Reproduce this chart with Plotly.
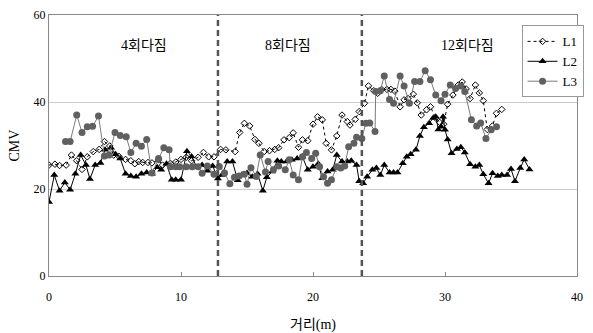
import plotly.graph_objects as go

# ---- data ----
l1_x = [0.0, 0.45, 0.8, 1.3, 1.7, 2.1, 2.5, 2.9, 3.35, 3.8, 4.2, 4.6, 4.9, 5.3, 5.8, 6.2, 6.5, 6.8, 7.1, 7.5,
        7.8, 8.3, 8.6, 9.2, 9.6, 10.0, 10.4, 10.8, 11.3, 11.7, 12.1, 12.5, 13.0, 13.4, 14.1, 14.45, 14.8, 15.2,
        15.6, 15.9, 16.3, 16.7, 17.1, 17.4, 17.8, 18.2, 18.5, 18.9, 19.2, 19.6, 20.0, 20.35, 20.7, 21.0, 21.4,
        21.8, 22.2, 22.6, 22.8, 23.2, 23.5, 23.9, 24.2, 24.6, 24.9, 25.2, 25.6, 25.9, 26.2, 26.6, 26.9, 27.2,
        27.6, 27.9, 28.2, 28.6, 28.9, 29.3, 29.6, 29.9, 30.2, 30.6, 31.0, 31.3, 31.6, 31.9, 32.3, 32.6, 32.9,
        33.2, 33.6, 33.9, 34.3]
l1_y = [25.5, 25.7, 25.4, 25.5, 27.8, 26.5, 24.5, 27.4, 28.6, 29.1, 30.9, 29.9, 27.8, 27.5, 26.8, 26.5, 25.8, 26.3, 26.1, 26.1,
        26.0, 26.7, 25.5, 25.9, 26.2, 26.8, 27.3, 26.5, 27.3, 28.4, 27.4, 27.4, 29.1, 29.0, 28.6, 33.0, 35.1, 34.5,
        31.4, 30.5, 28.6, 28.8, 29.1, 29.5, 31.3, 31.8, 32.9, 29.6, 31.3, 31.1, 34.9, 36.6, 35.9, 30.5, 29.0,
        32.2, 37.0, 35.5, 34.7, 36.0, 37.8, 39.7, 43.7, 42.6, 42.0, 42.9, 42.9, 42.9, 42.5, 38.9, 40.5, 40.8,
        41.8, 39.8, 37.0, 38.2, 38.9, 36.3, 35.3, 34.9, 39.5, 41.6, 43.9, 44.6, 43.0, 40.8, 43.9, 42.1, 40.3,
        33.7, 34.5, 37.4, 38.3]

l2_x = [0.0, 0.4, 0.8, 1.2, 1.6, 2.0, 2.4, 2.8, 3.1, 3.5, 3.9, 4.25, 4.7, 5.05, 5.4, 5.8, 6.2, 6.6, 7.0, 7.4,
        7.8, 8.2, 8.5, 8.9, 9.3, 9.6, 10.0, 10.45, 10.8, 11.2, 11.6, 12.0, 12.4, 12.8, 13.1, 13.5, 13.9, 14.3,
        14.6, 15.0, 15.4, 15.8, 16.2, 16.5, 16.9, 17.3, 17.6, 18.0, 18.4, 18.8, 19.2, 19.6, 20.0, 20.4, 20.7,
        21.1, 21.5, 21.8, 22.2, 22.6, 22.9, 23.3, 23.5, 23.8, 24.1, 24.5, 24.8, 25.1, 25.4, 25.8, 26.1, 26.4,
        26.8, 27.1, 27.4, 27.8, 28.1, 28.4, 28.8, 29.1, 29.3, 29.5, 29.7, 29.85, 30.0, 30.2, 30.5, 30.9, 31.2,
        31.5, 31.9, 32.3, 32.6, 32.9, 33.3, 33.6, 34.0, 34.3, 34.7, 35.0, 35.3, 35.7, 36.0, 36.4]
l2_y = [17.0, 23.2, 19.6, 21.5, 19.8, 23.5, 27.8, 25.5, 22.3, 25.5, 26.0, 29.0, 29.5, 28.0, 27.0, 23.5, 23.0, 22.8, 23.5, 23.8,
        23.5, 25.0, 24.4, 25.8, 22.1, 22.1, 22.1, 28.7, 27.5, 25.0, 25.5, 24.2, 25.3, 22.4, 23.2, 26.3, 26.3, 22.0,
        23.2, 23.7, 22.8, 23.5, 19.6, 22.7, 24.0, 26.5, 26.3, 26.3, 26.7, 27.0, 27.4, 24.4, 25.1, 25.8, 22.5,
        24.0, 24.4, 27.8, 26.3, 26.3, 26.5, 25.5, 21.8, 21.3, 22.8, 24.4, 24.8, 23.2, 25.5, 23.8, 23.8, 23.8,
        25.9, 27.4, 28.0, 29.0, 32.2, 34.2, 35.1, 36.3, 36.6, 33.7, 34.3, 36.6, 33.6, 31.4, 28.2, 29.2, 29.6,
        28.4, 25.7, 25.1, 25.5, 23.4, 21.3, 23.6, 23.0, 23.2, 23.2, 24.6, 21.8, 24.8, 26.8, 24.5]

l3_x = [1.25, 1.6, 2.1, 2.5, 2.9, 3.3, 3.75, 4.2, 4.55, 5.0, 5.4, 5.85, 6.2, 6.6, 7.0, 7.4, 7.8, 8.3, 8.7, 9.1,
        9.2, 9.6, 9.9, 10.4, 10.85, 11.3, 11.6, 12.0, 12.5, 12.9, 13.3, 13.7, 14.05, 14.4, 14.8, 15.0, 15.3,
        15.7, 16.0, 16.4, 16.6, 17.0, 17.4, 17.9, 18.2, 18.5, 18.9, 19.2, 19.5, 19.9, 20.2, 20.5, 20.8, 21.1,
        21.4, 21.8, 22.1, 22.4, 22.7, 23.1, 23.3, 23.7, 24.0, 24.3, 24.7, 24.75, 25.1, 25.4, 25.8, 26.1, 26.6,
        26.9, 27.3, 27.7, 28.1, 28.5, 28.9, 29.3, 29.7, 30.0, 30.4, 30.8, 31.2, 31.5, 32.0, 32.4, 32.7, 33.1,
        33.5, 33.9]
l3_y = [30.9, 30.9, 37.0, 33.0, 34.3, 34.4, 36.8, 27.6, 27.8, 33.0, 32.3, 32.0, 28.4, 30.5, 29.8, 31.4, 23.7, 27.0, 29.5, 29.0,
        25.1, 25.1, 25.1, 25.1, 25.1, 25.1, 23.6, 25.3, 23.4, 25.2, 23.7, 21.2, 22.7, 23.0, 23.4, 21.1, 24.9,
        22.9, 27.8, 23.9, 26.3, 24.4, 25.3, 24.4, 26.7, 23.2, 22.1, 27.4, 28.4, 27.0, 28.2, 25.1, 22.8, 21.3,
        22.1, 25.1, 24.8, 25.3, 29.7, 30.5, 31.9, 31.6, 35.1, 35.2, 33.2, 42.4, 42.6, 46.0, 40.6, 39.7, 46.0,
        43.7, 39.7, 44.7, 44.7, 47.2, 45.1, 41.6, 40.3, 41.8, 43.9, 43.1, 43.7, 42.4, 35.9, 34.5, 35.2, 31.6,
        33.6, 34.3]

boundaries = [12.8, 23.7]
zone_labels = ["4회다짐", "8회다짐", "12회다짐"]
zone_label_x = [7.2, 18.1, 31.7]
zone_label_y = 53
x_ticks = [0, 10, 20, 30, 40]
y_ticks = [0, 20, 40, 60]

SERIF = "Liberation Serif, Noto Sans CJK KR, serif"

fig = go.Figure()
fig.add_trace(go.Scatter(x=l1_x, y=l1_y, name="L1", mode="lines+markers",
                         line=dict(color="black", width=1, dash="dot"),
                         marker=dict(symbol="diamond-open", size=5, color="black", line=dict(width=1))))
fig.add_trace(go.Scatter(x=l2_x, y=l2_y, name="L2", mode="lines+markers",
                         line=dict(color="black", width=1),
                         marker=dict(symbol="triangle-up", size=7, color="black")))
fig.add_trace(go.Scatter(x=l3_x, y=l3_y, name="L3", mode="lines+markers",
                         line=dict(color="#7a7a7a", width=1),
                         marker=dict(symbol="circle", size=7, color="#606060")))

for b in boundaries:
    fig.add_shape(type="line", x0=b, x1=b, y0=0, y1=60, xref="x", yref="y",
                  line=dict(color="#555555", width=2.5, dash="6px,4px"))

for t, xx in zip(zone_labels, zone_label_x):
    fig.add_annotation(x=xx, y=zone_label_y, text=t, showarrow=False,
                       font=dict(family=SERIF, size=14, color="black"))

fig.update_layout(
    width=593, height=333,
    margin=dict(l=49, r=9, t=15, b=57),
    paper_bgcolor="white", plot_bgcolor="white",
    showlegend=True,
    legend=dict(x=0.895, y=0.96, xanchor="left", yanchor="top",
                bgcolor="white", bordercolor="#999999", borderwidth=1,
                font=dict(family=SERIF, size=13, color="black"),
                itemwidth=30, tracegroupgap=2),
    xaxis=dict(range=[0, 40], tickvals=x_ticks, showgrid=False, zeroline=False,
               showline=True, linecolor="#888888", linewidth=1, mirror=True,
               ticks="inside", ticklen=4, tickcolor="#888888",
               ticklabelstandoff=10, automargin=False,
               tickfont=dict(family=SERIF, size=12, color="black"),
               title=dict(text="거리(m)", font=dict(family=SERIF, size=14, color="black"), standoff=15)),
    yaxis=dict(range=[0, 60], tickvals=y_ticks, showgrid=True, gridcolor="#cccccc", zeroline=False,
               showline=True, linecolor="#888888", linewidth=1, mirror=True, automargin=False,
               ticks="", tickfont=dict(family=SERIF, size=12, color="black"),
               title=dict(text="CMV", font=dict(family=SERIF, size=14, color="black"), standoff=10)),
)

fig.write_html("out.html")
